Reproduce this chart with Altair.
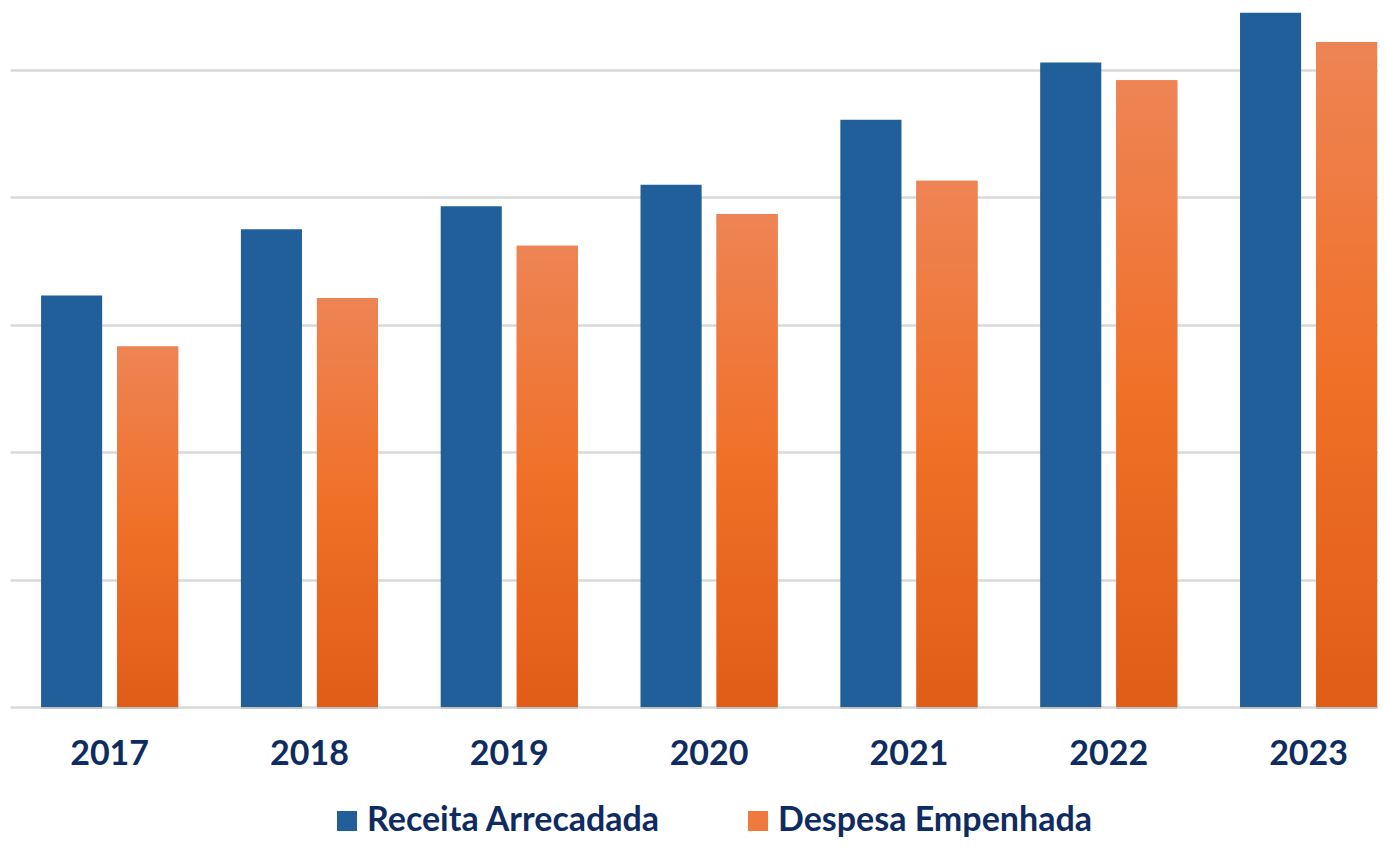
import altair as alt
import pandas as pd

anos = ["2017", "2018", "2019", "2020", "2021", "2022", "2023"]
receita = [3.23, 3.75, 3.93, 4.10, 4.61, 5.06, 5.45]
despesa = [2.83, 3.21, 3.62, 3.87, 4.13, 4.92, 5.22]
series = ["Receita Arrecadada", "Despesa Empenhada"]
cores = ["#215F9A", "#EE7A3F"]

rows = []
for a, r, d in zip(anos, receita, despesa):
    rows.append({"ano": a, "serie": series[0], "valor": r})
    rows.append({"ano": a, "serie": series[1], "valor": d})
df = pd.DataFrame(rows)

font = "Lato"
navy = "#0F2C62"

xscale = alt.Scale(paddingInner=0.314, paddingOuter=0.08, align=0.972)
xoff = alt.XOffset("serie:N", sort=series,
                   scale=alt.Scale(paddingInner=0.197, paddingOuter=0))

base = alt.Chart(df).encode(
    x=alt.X("ano:N", sort=anos, scale=xscale, title=None,
            axis=alt.Axis(labelFont=font, labelFontSize=34, labelFontWeight="bold",
                          labelColor=navy, labelPadding=30, domain=False, ticks=False,
                          labelAngle=0, grid=False)),
    y=alt.Y("valor:Q", scale=alt.Scale(domain=[0, 5.487], nice=False, zero=True),
            title=None,
            axis=alt.Axis(values=[0, 1, 2, 3, 4, 5], labels=False, ticks=False,
                          domain=False, grid=True, gridColor="#d9d9d9",
                          gridWidth=2.5)),
    xOffset=xoff,
)

# soft shadow
shadow = base.mark_bar(color="#000000", opacity=0.12, xOffset=2, yOffset=2,
                       strokeWidth=0).encode()

bars = base.mark_bar(strokeWidth=0).encode(
    color=alt.Color("serie:N", sort=series,
                    scale=alt.Scale(domain=series, range=cores),
                    legend=alt.Legend(title=None, orient="none", direction="horizontal",
                                      legendX=320, legendY=796,
                                      labelFont=font, labelFontSize=34,
                                      labelFontWeight="bold", labelColor=navy,
                                      symbolType="square", symbolSize=400,
                                      symbolStrokeWidth=0, columnPadding=80,
                                      labelOffset=3, labelLimit=700))
)

grad = alt.Gradient(
    gradient="linear",
    stops=[alt.GradientStop(color="#EE8455", offset=0),
           alt.GradientStop(color="#F07028", offset=0.5),
           alt.GradientStop(color="#E05D17", offset=1)],
    x1=0, x2=0, y1=0, y2=1,
)
orange = base.transform_filter(alt.datum.serie == series[1]).mark_bar(
    fill=grad, strokeWidth=0)

chart = alt.layer(shadow, bars, orange).properties(
    width=1368, height=699,
    autosize="none",
    background="white",
    padding={"left": 2, "top": 0, "right": 0, "bottom": 130},
).configure_view(strokeWidth=0, stroke=None)

chart.save("out.html", embed_options={"renderer": "svg", "actions": False})
